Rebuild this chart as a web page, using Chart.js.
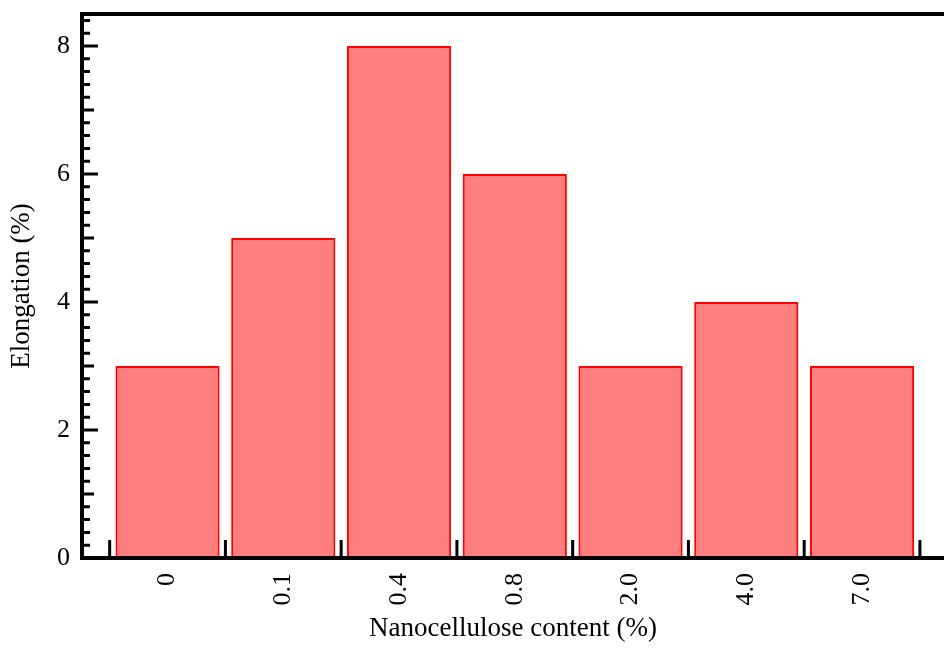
<!DOCTYPE html>
<html>
<head>
<meta charset="utf-8">
<script src="https://cdn.jsdelivr.net/npm/chart.js@4/dist/chart.umd.min.js"></script>
<style>
  body { margin: 0; background: #fff; }
</style>
</head>
<body>
<canvas id="mychart" width="944" height="652"></canvas>
<script>
// categories and values
const contents = ['0', '0.1', '0.4', '0.8', '2.0', '4.0', '7.0']
const elongation = [3, 5, 8, 6, 3, 4, 3]
const yTickValues = [0, 2, 4, 6, 8]

const serif = 'Liberation Serif'

// draws the thick frame and the inward ticks
const frameAxes = {
  id: 'frameAxes',
  afterDraw(chart) {
    const ctx = chart.ctx
    const a = chart.chartArea
    const x = chart.scales.x
    const y = chart.scales.y
    ctx.save()
    ctx.strokeStyle = '#000'
    ctx.lineCap = 'butt'
    ctx.lineWidth = 4
    ctx.beginPath()
    ctx.moveTo(a.left, a.bottom)
    ctx.lineTo(a.left, a.top)
    ctx.lineTo(a.right, a.top)
    ctx.moveTo(a.left - 2, a.bottom)
    ctx.lineTo(a.right, a.bottom)
    ctx.stroke()

    // y ticks every 0.2, longer at odd and even integers
    ctx.lineWidth = 3
    ctx.beginPath()
    for (let i = 1; i <= 42; i++) {
      const py = y.getPixelForValue(i / 5)
      let len = 8
      if (i % 10 === 0) len = 16
      else if (i % 5 === 0) len = 12
      ctx.moveTo(a.left, py)
      ctx.lineTo(a.left + len, py)
    }
    // x ticks between the bars
    for (let i = 0; i <= contents.length; i++) {
      const px = x.getPixelForValue(i - 0.5)
      ctx.moveTo(px, a.bottom)
      ctx.lineTo(px, a.bottom - 18)
    }
    ctx.stroke()
    ctx.restore()
  }
}

var mychart = document.getElementById('mychart').getContext('2d')
var chart = new Chart(mychart, {
  type: 'bar',
  data: {
    datasets: [{
      label: 'Elongation',
      data: elongation.map((v, i) => ({ x: i, y: v })),
      backgroundColor: 'rgba(255,0,0,0.5)',
      borderColor: '#ff0000',
      borderWidth: 2,
      barPercentage: 0.9,
      categoryPercentage: 1
    }]
  },
  options: {
    responsive: false,
    animation: false,
    devicePixelRatio: 1,
    layout: { padding: { top: 14, right: 0, left: 0, bottom: 0 } },
    plugins: { legend: { display: false }, tooltip: { enabled: false } },
    scales: {
      x: {
        type: 'linear',
        offset: false,
        min: -0.739,
        max: 6.708,
        grid: { display: false, drawTicks: false, offset: false },
        border: { display: false },
        afterBuildTicks: (s) => { s.ticks = contents.map((c, i) => ({ value: i })) },
        afterFit: (s) => { s.height = 94; s.paddingLeft = 0; s.paddingRight = 0 },
        ticks: {
          autoSkip: false,
          minRotation: 90,
          maxRotation: 90,
          padding: 15,
          color: '#000',
          font: { family: serif, size: 26 },
          callback: (v) => contents[v]
        },
        title: {
          display: true,
          text: 'Nanocellulose content (%)',
          color: '#000',
          font: { family: serif, size: 27 },
          padding: { top: 0, bottom: 7 }
        }
      },
      y: {
        min: 0,
        max: 8.5,
        grid: { display: false, drawTicks: false },
        border: { display: false },
        afterBuildTicks: (s) => { s.ticks = yTickValues.map(v => ({ value: v })) },
        afterFit: (s) => { s.width = 82; s.paddingTop = 0; s.paddingBottom = 0 },
        ticks: {
          padding: 12,
          color: '#000',
          font: { family: serif, size: 26 }
        },
        title: {
          display: true,
          text: 'Elongation (%)',
          color: '#000',
          font: { family: serif, size: 27 },
          padding: { top: 6, bottom: 0 }
        }
      }
    }
  },
  plugins: [frameAxes]
})
</script>
</body>
</html>
